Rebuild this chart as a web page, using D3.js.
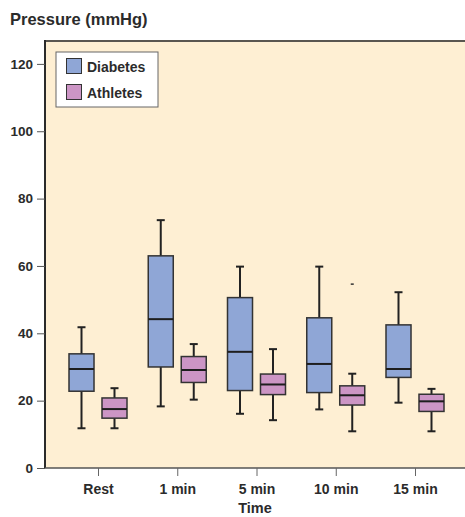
<!DOCTYPE html>
<html>
<head>
<meta charset="utf-8">
<script src="https://cdn.jsdelivr.net/npm/d3@7"></script>
<style>
  body { margin: 0; background: #fff; }
  text { font-family: "Liberation Sans", Arial, sans-serif; fill: #2b2b2b; }
</style>
</head>
<body>
<div id="chart"></div>
<script>
// Data
const times = ["Rest", "1 min", "5 min", "10 min", "15 min"];
const groups = ["Diabetes", "Athletes"];
// [whisker low, q1, median, q3, whisker high]
const diabetes = [
  [11.8, 22.8, 29.4, 33.9, 41.8],
  [18.3, 30.0, 44.2, 63.0, 73.6],
  [16.1, 23.0, 34.5, 50.6, 59.8],
  [17.4, 22.4, 30.9, 44.6, 59.8],
  [19.4, 26.9, 29.4, 42.5, 52.2]
];
const athletes = [
  [11.8, 14.8, 17.5, 20.8, 23.7],
  [20.3, 25.4, 29.1, 33.1, 36.8],
  [14.2, 21.8, 24.8, 27.9, 35.3],
  [10.9, 18.7, 21.6, 24.4, 28.0],
  [10.9, 16.8, 19.8, 21.9, 23.5]
];
const outliers = [{time: "10 min", group: "Athletes", value: 54.6}];
const yTicks = [0, 20, 40, 60, 80, 100, 120];
const colors = {Diabetes: "#8fa6d6", Athletes: "#cc95c5"};

// Set dimensions and margins
const W = 465, H = 517;
const margin = {top: 41, right: 0, bottom: 49, left: 45};

const svg = d3.select("#chart")
  .append("svg")
    .attr("width", W)
    .attr("height", H);

const x = d3.scalePoint()
    .domain(times)
    .range([margin.left + 53, W - 50]);
const xSub = d3.scaleBand()
    .domain(groups)
    .range([-29, 29])
    .paddingInner(0.242);
const y = d3.scaleLinear()
    .domain([0, 126.8])
    .range([H - margin.bottom, margin.top]);

// Plot background
svg.append("rect")
  .attr("x", margin.left)
  .attr("y", margin.top)
  .attr("width", W - margin.left - margin.right)
  .attr("height", H - margin.bottom - margin.top)
  .attr("fill", "#feefd3");

// top border
svg.append("line")
  .attr("x1", margin.left).attr("x2", W)
  .attr("y1", margin.top).attr("y2", margin.top)
  .attr("stroke", "#5a5650").attr("stroke-width", 2);

// Y axis
const yAxis = svg.append("g")
  .attr("transform", `translate(${margin.left},0)`)
  .call(d3.axisLeft(y).tickValues(yTicks).tickSize(8).tickPadding(4));
yAxis.select(".domain").attr("stroke", "#2b2b2b").attr("stroke-width", 2)
  .attr("d", `M0,${y(0)}V${margin.top - 1}`);
yAxis.selectAll(".tick line").attr("stroke", "#555");
yAxis.selectAll(".tick text")
  .style("font-size", "13.5px").style("font-weight", "bold").attr("fill", "#2b2b2b");

// X axis
const xAxis = svg.append("g")
  .attr("transform", `translate(0,${y(0)})`)
  .call(d3.axisBottom(x).tickSize(8).tickPadding(8));
xAxis.select(".domain").attr("stroke", "#555").attr("stroke-width", 1.5)
  .attr("d", `M${margin.left},0H${W}`);
xAxis.selectAll(".tick line").attr("stroke", "#666");
xAxis.selectAll(".tick text")
  .style("font-size", "14px").style("font-weight", "bold").attr("fill", "#2b2b2b");

// Box plots
const rows = [];
times.forEach((t, i) => {
  rows.push({time: t, group: "Diabetes", v: diabetes[i]});
  rows.push({time: t, group: "Athletes", v: athletes[i]});
});

const bw = xSub.bandwidth();
const boxes = svg.selectAll(".box")
  .data(rows)
  .enter().append("g")
    .attr("class", "box")
    .attr("transform", d => `translate(${x(d.time) + xSub(d.group)},0)`);

// whiskers
boxes.append("line")
  .attr("x1", bw / 2).attr("x2", bw / 2)
  .attr("y1", d => y(d.v[0])).attr("y2", d => y(d.v[4]))
  .attr("stroke", "#222").attr("stroke-width", 2);
boxes.append("line")
  .attr("x1", bw / 2 - 4).attr("x2", bw / 2 + 4)
  .attr("y1", d => y(d.v[4])).attr("y2", d => y(d.v[4]))
  .attr("stroke", "#222").attr("stroke-width", 2);
boxes.append("line")
  .attr("x1", bw / 2 - 4).attr("x2", bw / 2 + 4)
  .attr("y1", d => y(d.v[0])).attr("y2", d => y(d.v[0]))
  .attr("stroke", "#222").attr("stroke-width", 2);

// box
boxes.append("rect")
  .attr("x", 0)
  .attr("width", bw)
  .attr("y", d => y(d.v[3]))
  .attr("height", d => y(d.v[1]) - y(d.v[3]))
  .attr("fill", d => colors[d.group])
  .attr("stroke", "#333")
  .attr("stroke-width", 1.5);

// median
boxes.append("line")
  .attr("x1", 0).attr("x2", bw)
  .attr("y1", d => y(d.v[2])).attr("y2", d => y(d.v[2]))
  .attr("stroke", "#1e1e1e").attr("stroke-width", 2);

// outliers
svg.selectAll(".outlier")
  .data(outliers)
  .enter().append("line")
    .attr("class", "outlier")
    .attr("x1", d => x(d.time) + xSub(d.group) + bw / 2 - 1.5)
    .attr("x2", d => x(d.time) + xSub(d.group) + bw / 2 + 1.5)
    .attr("y1", d => y(d.value)).attr("y2", d => y(d.value))
    .attr("stroke", "#333").attr("stroke-width", 1.5);

// Legend
const legend = svg.append("g").attr("transform", "translate(56,52)");
legend.append("rect")
  .attr("width", 102).attr("height", 55)
  .attr("fill", "#fff").attr("stroke", "#666").attr("stroke-width", 1);
groups.forEach((g, i) => {
  legend.append("rect")
    .attr("x", 10.5).attr("y", 6.5 + i * 26)
    .attr("width", 15).attr("height", 15)
    .attr("fill", colors[g]).attr("stroke", "#333").attr("stroke-width", 1);
  legend.append("text")
    .attr("x", 31).attr("y", 19.5 + i * 26)
    .style("font-size", "14px").style("font-weight", "bold")
    .text(g);
});

// Titles
svg.append("text")
  .attr("x", 10).attr("y", 25)
  .style("font-size", "16.5px").style("font-weight", "bold")
  .text("Pressure (mmHg)");
svg.append("text")
  .attr("x", (margin.left + W) / 2).attr("y", 513)
  .attr("text-anchor", "middle")
  .style("font-size", "14.5px").style("font-weight", "bold")
  .text("Time");
</script>
</body>
</html>
